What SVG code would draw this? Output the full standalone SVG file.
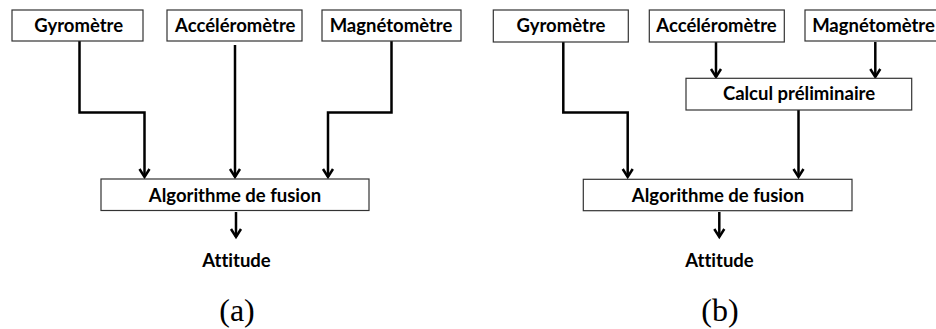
<svg xmlns="http://www.w3.org/2000/svg" width="936" height="329" viewBox="0 0 936 329">
<defs>
<style>
.box{fill:#fff;stroke:#333;stroke-width:1.2}
.lbl{font-family:Lato,"Open Sans",sans-serif;font-weight:bold;font-size:18.5px;fill:#000;text-anchor:middle;font-variant-ligatures:none;font-feature-settings:"liga" 0}
.cap{font-family:"Liberation Serif","DejaVu Serif",serif;font-size:32px;fill:#000;text-anchor:middle}
.wire{fill:none;stroke:#000;stroke-width:2.5;marker-end:url(#arr)}
</style>
<marker id="arr" markerUnits="userSpaceOnUse" markerWidth="14" markerHeight="16" viewBox="-11 -8 14 16" refX="0" refY="0" orient="auto">
<path d="M-8,-5 L0,0 L-8,5" fill="none" stroke="#000" stroke-width="2.5" stroke-linejoin="miter"/>
</marker>
</defs>
<rect width="936" height="329" fill="#fff"/>
<g id="connectors">
<path class="wire" d="M79.5,41 V112.5 H144.5 V177"/>
<path class="wire" d="M235,45 V177"/>
<path class="wire" d="M391.5,41 V112.5 H328 V177"/>
<path class="wire" d="M236,212 V237"/>
<path class="wire" d="M563.3,42 V112.5 H627.7 V177"/>
<path class="wire" d="M716,42 V77"/>
<path class="wire" d="M875.3,42 V77"/>
<path class="wire" d="M798.5,110 V177"/>
<path class="wire" d="M719.3,212 V237"/>
</g>
<g id="a-gyro"><rect class="box" x="12" y="10" width="131" height="31"/><text class="lbl" x="78.7" y="32">Gyromètre</text></g>
<g id="a-accel"><rect class="box" x="167" y="10" width="135" height="31"/><text class="lbl" x="235.3" y="32">Accéléromètre</text></g>
<g id="a-magn"><rect class="box" x="322" y="10" width="139" height="31"/><text class="lbl" x="391" y="32">Magnétomètre</text></g>
<g id="a-fusion"><rect class="box" x="101" y="179" width="268" height="31.5"/><text class="lbl" x="235" y="201.5">Algorithme de fusion</text></g>
<g id="a-attitude"><text class="lbl" x="236.5" y="267">Attitude</text></g>
<g id="a-caption"><text class="cap" x="237" y="321">(a)</text></g>
<g id="b-gyro"><rect class="box" x="493.3" y="10" width="135" height="32"/><text class="lbl" x="561" y="32">Gyromètre</text></g>
<g id="b-accel"><rect class="box" x="649.3" y="10" width="135" height="32"/><text class="lbl" x="716.5" y="32">Accéléromètre</text></g>
<g id="b-magn"><rect class="box" x="805" y="10" width="140" height="31"/><text class="lbl" x="873.5" y="32">Magnétomètre</text></g>
<g id="b-calcul"><rect class="box" x="686" y="78.3" width="225.7" height="31.7"/><text class="lbl" x="799" y="100">Calcul préliminaire</text></g>
<g id="b-fusion"><rect class="box" x="583.3" y="179.3" width="268.7" height="31.4"/><text class="lbl" x="718" y="201.5">Algorithme de fusion</text></g>
<g id="b-attitude"><text class="lbl" x="719.5" y="267">Attitude</text></g>
<g id="b-caption"><text class="cap" x="720" y="321">(b)</text></g>
</svg>
